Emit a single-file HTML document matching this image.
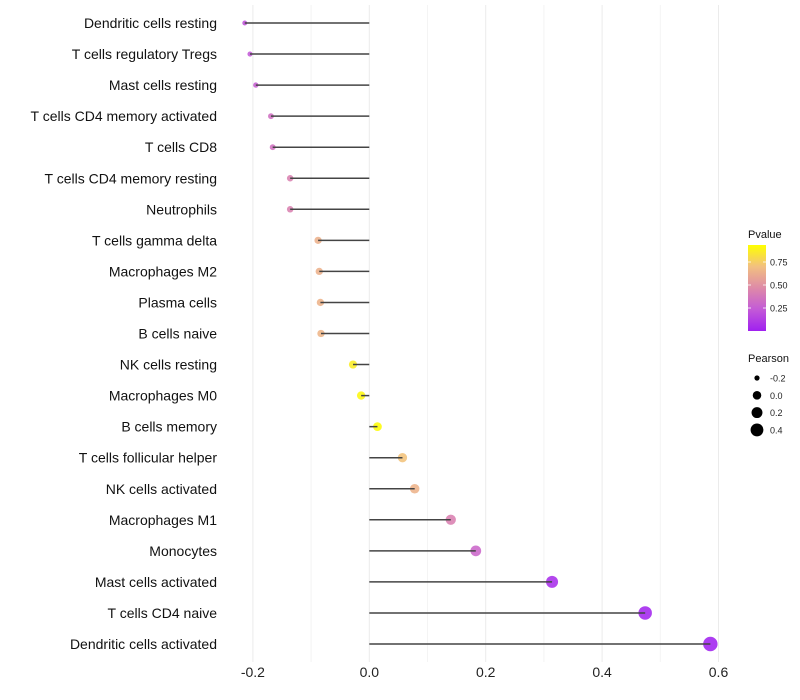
<!DOCTYPE html>
<html><head><meta charset="utf-8">
<style>
body{margin:0;background:#fff;}
svg{display:block;font-family:"Liberation Sans",sans-serif;}
</style></head>
<body>
<svg id="chart" width="800" height="700"></svg>
<script>
const categories=["Dendritic cells resting","T cells regulatory  Tregs","Mast cells resting","T cells CD4 memory activated","T cells CD8","T cells CD4 memory resting","Neutrophils","T cells gamma delta","Macrophages M2","Plasma cells","B cells naive","NK cells resting","Macrophages M0","B cells memory","T cells follicular helper","NK cells activated","Macrophages M1","Monocytes","Mast cells activated","T cells CD4 naive","Dendritic cells activated"];
const pearson=[-0.214,-0.205,-0.195,-0.169,-0.166,-0.136,-0.136,-0.088,-0.086,-0.084,-0.083,-0.028,-0.014,0.014,0.057,0.078,0.14,0.183,0.314,0.474,0.586];
const pvalues=[0.22,0.25,0.28,0.36,0.37,0.46,0.46,0.68,0.68,0.69,0.7,0.93,0.97,0.99,0.76,0.69,0.45,0.32,0.06,0.02,0.01];
const xTicks=[-0.2,0,0.2,0.4,0.6];
const xTickLabels=["-0.2","0.0","0.2","0.4","0.6"];
const pTicks=[0.25,0.5,0.75];
const sizeLegend=[-0.2,0,0.2,0.4];

const NS="http://www.w3.org/2000/svg";
const svg=document.getElementById('chart');
function X(v){return 369.3+v*582;}
function Y(i){return 23+i*31.05;}
function R(v){const t=(v+0.214)/0.8;return Math.sqrt(Math.max(2,6+46*t));}
function PY(p){return 331-p*92;}
const stops=[[0,[160,32,240]],[0.25,[195,90,215]],[0.5,[222,138,168]],[0.75,[242,192,128]],[1,[255,255,0]]];
function col(p){p=Math.max(0,Math.min(1,p));for(let k=1;k<stops.length;k++){if(p<=stops[k][0]){const a=stops[k-1],b=stops[k];const t=(p-a[0])/(b[0]-a[0]);return 'rgb('+a[1].map((c,j)=>Math.round(c+(b[1][j]-c)*t)).join(',')+')';}}return 'rgb(255,255,0)';}
function mk(tag,at,parent){const e=document.createElementNS(NS,tag);for(const k in at)e.setAttribute(k,at[k]);(parent||svg).appendChild(e);return e;}

for(let k=0;k<xTicks.length;k++){
  const g=mk('line',{x1:X(xTicks[k]),x2:X(xTicks[k]),y1:5,y2:662,stroke:'#ebebeb','stroke-width':1});
  
  
  if(k<xTicks.length-1){const m=(xTicks[k]+xTicks[k+1])/2;
    const g2=mk('line',{x1:X(m),x2:X(m),y1:5,y2:662,stroke:'#f4f4f4','stroke-width':1});
    
    }
  const t=mk('text',{x:X(xTicks[k]),y:677,'text-anchor':'middle','font-size':14,fill:'#222'});
  t.textContent=xTickLabels[k];
  
  
}
categories.forEach((c,i)=>{
  const y=Y(i);
  const t=mk('text',{x:217,y:y+5,'text-anchor':'end','font-size':14,fill:'#111'});
  t.textContent=c;
  
  
  const pt=mk('circle',{cx:X(pearson[i]),cy:y,r:R(pearson[i]),fill:col(pvalues[i]),'fill-opacity':0.88});
  
  
  const ln=mk('line',{x1:X(0),x2:X(pearson[i]),y1:y,y2:y,stroke:'#444','stroke-width':1.5});
  
  
});
const defs=mk('defs',{});
const lg=mk('linearGradient',{id:'pg',x1:0,y1:1,x2:0,y2:0},defs);
for(let p=0;p<=1.0001;p+=0.05){mk('stop',{offset:p,'stop-color':col(p)},lg);}
const lt=mk('text',{x:748,y:238,'font-size':11,fill:'#111'});lt.textContent='Pvalue';


const bar=mk('rect',{x:748,y:245,width:18,height:86,fill:'url(#pg)'});


pTicks.forEach(p=>{
  mk('line',{x1:748,x2:751,y1:PY(p),y2:PY(p),stroke:'#fff','stroke-width':0.8});
  mk('line',{x1:763,x2:766,y1:PY(p),y2:PY(p),stroke:'#fff','stroke-width':0.8});
  const t=mk('text',{x:770,y:PY(p)+3.5,'font-size':9,fill:'#222'});t.textContent=p.toFixed(2);
  
  
});
const st=mk('text',{x:748,y:362,'font-size':11,fill:'#111'});st.textContent='Pearson';


sizeLegend.forEach((v,k)=>{
  const y=378+k*17.3;
  const c=mk('circle',{cx:757,cy:y,r:R(v),fill:'#000'});
  
  
  const t=mk('text',{x:770,y:y+3.5,'font-size':9,fill:'#222'});t.textContent=v.toFixed(1);
  
  
});
</script>
</body></html>
